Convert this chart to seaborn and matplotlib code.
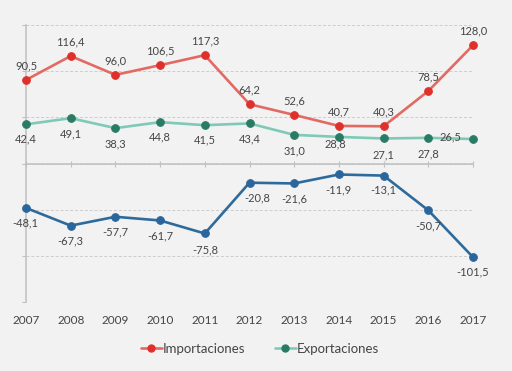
import numpy as np
import pandas as pd
import matplotlib
matplotlib.use('Agg')
import matplotlib.pyplot as plt
import seaborn as sns
from matplotlib.lines import Line2D

# ==========================================
# 数据
# ==========================================
years = [2007, 2008, 2009, 2010, 2011, 2012, 2013, 2014, 2015, 2016, 2017]
importaciones = [90.5, 116.4, 96.0, 106.5, 117.3, 64.2, 52.6, 40.7, 40.3, 78.5, 128.0]
exportaciones = [42.4, 49.1, 38.3, 44.8, 41.5, 43.4, 31.0, 28.8, 27.1, 27.8, 26.5]
saldo = [-48.1, -67.3, -57.7, -61.7, -75.8, -20.8, -21.6, -11.9, -13.1, -50.7, -101.5]

df = pd.DataFrame({'year': years, 'imp': importaciones,
                   'exp': exportaciones, 'bal': saldo})

# ==========================================
# 样式
# ==========================================
sns.set_style('white')
plt.rcParams['font.family'] = ['Lato', 'DejaVu Sans']
bg = '#f2f2f2'
txt = '#454545'
grid_c = '#cccccc'
axis_c = '#c0c0c0'

fig = plt.figure(figsize=(5.12, 3.71), dpi=100, facecolor=bg)
ax = fig.add_axes([26 / 512, 1 - 302 / 371, (473 - 26) / 512, 277 / 371])
ax.set_facecolor(bg)

# (series column, line colour, marker colour, label offsets in pixels)
series = [
    ('imp', '#e36a63', '#e0302c',
     [(0, 14)] * 11),
    ('exp', '#7fcab6', '#2a7b66',
     [(0, -15), (0, -16), (0, -16), (0, -15), (0, -15), (0, -15),
      (0, -16), (-4, -7), (0, -16), (0, -16), (-23, 2)]),
    ('bal', '#2e6b9b', '#2a669b',
     [(-1, -15), (0, -15), (0, -15), (0, -15), (0, -16), (8, -15),
      (0, -15), (0, -15), (0, -14), (0, -16), (0, -15)]),
]

for col, lc, mc, offs in series:
    sns.lineplot(data=df, x='year', y=col, ax=ax, color=lc, linewidth=1.9,
                 marker='o', markersize=5.5, markerfacecolor=mc,
                 markeredgecolor=mc, clip_on=False, zorder=3)
    for x, y, (dx, dy) in zip(df['year'], df[col], offs):
        ax.annotate(f'{y:.1f}'.replace('.', ','), (x, y), xytext=(dx, dy),
                    textcoords='offset pixels', ha='center', va='center',
                    fontsize=8, color=txt, zorder=4)

# 坐标轴
ax.set_xlim(2007, 2017)
ax.set_ylim(-150, 150)
ax.set_yticks([-150, -100, -50, 0, 50, 100, 150])
ax.yaxis.grid(True, linestyle=(0, (3, 2)), color=grid_c, linewidth=0.7)
ax.set_axisbelow(True)
ax.set_xlabel('')
ax.set_ylabel('')
for s in ['top', 'right']:
    ax.spines[s].set_visible(False)
ax.spines['left'].set_color(axis_c)
ax.spines['left'].set_linewidth(1.1)
ax.spines['bottom'].set_position(('data', 0))
ax.spines['bottom'].set_color(axis_c)
ax.spines['bottom'].set_linewidth(1.1)
ax.tick_params(axis='y', left=True, length=3, color=axis_c, labelleft=False)
ax.tick_params(axis='x', bottom=True, direction='inout', length=5,
               color=axis_c, labelbottom=False)
ax.set_xticks(years)

sec = ax.secondary_xaxis('bottom')
sec.set_xticks(years)
sec.set_xticklabels([str(y) for y in years])
sec.tick_params(length=0, pad=9, labelsize=8.5, labelcolor=txt)
sec.spines['bottom'].set_visible(False)

# 图例
handles = [
    Line2D([], [], color='#e36a63', linewidth=1.9, marker='o', markersize=5,
           markerfacecolor='#e0302c', markeredgecolor='#e0302c'),
    Line2D([], [], color='#7fcab6', linewidth=1.9, marker='o', markersize=5,
           markerfacecolor='#2a7b66', markeredgecolor='#2a7b66'),
]
fig.legend(handles, ['Importaciones', 'Exportaciones'], loc='center',
           bbox_to_anchor=(0.508, 0.059), ncol=2, frameon=False,
           handlelength=1.6, handletextpad=0.1, columnspacing=2.2,
           prop={'size': 9.5}, labelcolor=txt)

fig.savefig('out.png', dpi=100, facecolor=bg)
